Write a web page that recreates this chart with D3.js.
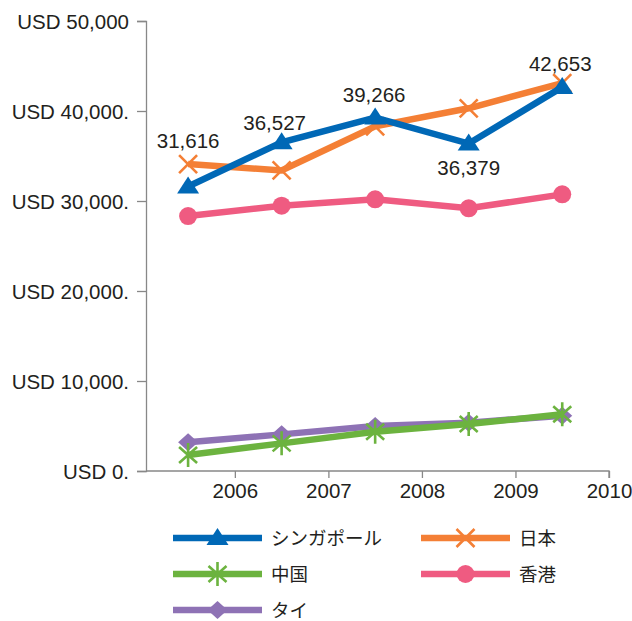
<!DOCTYPE html>
<html lang="ja">
<head>
<meta charset="UTF-8" />
<title>一人当たりGDP</title>
<script src="https://d3js.org/d3.v7.min.js"></script>
<style>
  body {
    margin: 0;
    background: #fff;
    overflow: hidden;
  }
  svg {
    display: block;
    font-family: "Liberation Sans", Arial, "Noto Sans CJK JP", sans-serif;
  }
  .axis path, .axis line {
    stroke: #888;
    stroke-width: 1.3px;
  }
  .axis text {
    fill: #231f20;
    font-size: 20.5px;
  }
  .legend text {
    font-family: "Noto Sans CJK JP", sans-serif;
    font-size: 18.5px;
    fill: #231f20;
  }
  .lbl {
    font-size: 20.5px;
    fill: #231f20;
  }
</style>
</head>
<body>

<svg width="632" height="621"></svg>

<script>
  const width = 632, height = 621;

  // data points sit in the middle of each year
  const years = [2005.5, 2006.5, 2007.5, 2008.5, 2009.5];
  const xTicks = [2006, 2007, 2008, 2009, 2010];
  const yTicks = [0, 10000, 20000, 30000, 40000, 50000];
  const yTickLabels = ["USD 0.", "USD 10,000.", "USD 20,000.", "USD 30,000.", "USD 40,000.", "USD 50,000"];

  const names = ["シンガポール", "日本", "中国", "香港", "タイ"];
  const singapore = [31616, 36527, 39266, 36379, 42653];
  const japan = [34100, 33400, 38300, 40300, 43100];
  const china = [1780, 3070, 4370, 5220, 6300];
  const hongkong = [28330, 29480, 30190, 29190, 30740];
  const thai = [3190, 4070, 5000, 5370, 6150];

  const colors = {
    "シンガポール": "#0068b6",
    "日本": "#f47f35",
    "中国": "#6cb33f",
    "香港": "#ef5b81",
    "タイ": "#8e72b5"
  };
  const symbols = {
    "シンガポール": "triangle",
    "日本": "cross",
    "中国": "asterisk",
    "香港": "circle",
    "タイ": "diamond"
  };

  const series = [
    { name: "シンガポール", values: singapore },
    { name: "日本", values: japan },
    { name: "中国", values: china },
    { name: "香港", values: hongkong },
    { name: "タイ", values: thai }
  ];

  const x = d3.scaleLinear().domain([2005.05, 2010]).range([146, 609]);
  const y = d3.scaleLinear().domain([0, 50000]).range([471, 21]);

  const svg = d3.select("svg");

  // axes
  svg.append("g")
    .attr("class", "axis")
    .attr("transform", `translate(146,0)`)
    .call(d3.axisLeft(y).tickValues(yTicks).tickSize(9).tickPadding(8)
      .tickFormat((d, i) => yTickLabels[i]))
    .call(g => g.selectAll("text").attr("dy", "0.35em"));

  svg.append("g")
    .attr("class", "axis")
    .attr("transform", `translate(0,471)`)
    .call(d3.axisBottom(x).tickValues(xTicks).tickSize(7).tickSizeOuter(0).tickPadding(5)
      .tickFormat(d3.format("d")))
    .call(g => g.select(".domain").attr("d", `M${x.range()[0]},0H${x.range()[1]}V7`));

  const line = d3.line()
    .x((d, i) => x(years[i]))
    .y(d => y(d));

  // marker drawing helper
  function drawMarker(g, type, color) {
    if (type === "triangle") {
      g.append("path").attr("d", "M0,-10L11,7L-11,7Z").attr("fill", color);
    } else if (type === "circle") {
      g.append("circle").attr("r", 9).attr("fill", color);
    } else if (type === "diamond") {
      g.append("path").attr("d", "M0,-9L10,0L0,9L-10,0Z").attr("fill", color);
    } else if (type === "cross") {
      g.append("path").attr("d", "M-9,-9L9,9M9,-9L-9,9")
        .attr("stroke", color).attr("stroke-width", 2.6).attr("fill", "none");
    } else if (type === "asterisk") {
      g.append("path").attr("d", "M0,-12V12M-9,-8L9,8M9,-8L-9,8")
        .attr("stroke", color).attr("stroke-width", 2.6).attr("fill", "none");
    }
  }

  // draw order: bottom first
  const order = ["タイ", "香港", "中国", "日本", "シンガポール"];
  order.forEach(name => {
    const s = series.find(d => d.name === name);
    const g = svg.append("g");
    g.append("path")
      .datum(s.values)
      .attr("fill", "none")
      .attr("stroke", colors[name])
      .attr("stroke-width", 6.5)
      .attr("stroke-linejoin", "miter")
      .attr("d", line);
    s.values.forEach((v, i) => {
      const m = g.append("g").attr("transform", `translate(${x(years[i])},${y(v)})`);
      drawMarker(m, symbols[name], colors[name]);
    });
  });

  // value labels for シンガポール
  const labelDy = [-38, -12, -16, 31, -16];
  const labelDx = [0, -7, -1, 0, -2];
  svg.append("g").selectAll("text")
    .data(singapore)
    .join("text")
    .attr("class", "lbl")
    .attr("x", (d, i) => x(years[i]) + labelDx[i])
    .attr("y", (d, i) => y(d) + labelDy[i])
    .attr("text-anchor", "middle")
    .text(d => d3.format(",")(d));

  // legend
  const legend = svg.append("g").attr("class", "legend");
  const legendPos = [
    [173, 538], [421, 538],
    [173, 574], [421, 574],
    [173, 610]
  ];
  series.forEach((s, i) => {
    const [lx, ly] = legendPos[i];
    const g = legend.append("g").attr("transform", `translate(${lx},${ly})`);
    g.append("line")
      .attr("x1", 0).attr("x2", 89)
      .attr("stroke", colors[s.name])
      .attr("stroke-width", 6.5);
    const m = g.append("g").attr("transform", "translate(44.5,0)");
    drawMarker(m, symbols[s.name], colors[s.name]);
    g.append("text")
      .attr("x", 98)
      .attr("dy", "0.36em")
      .text(s.name);
  });
</script>

</body>
</html>
